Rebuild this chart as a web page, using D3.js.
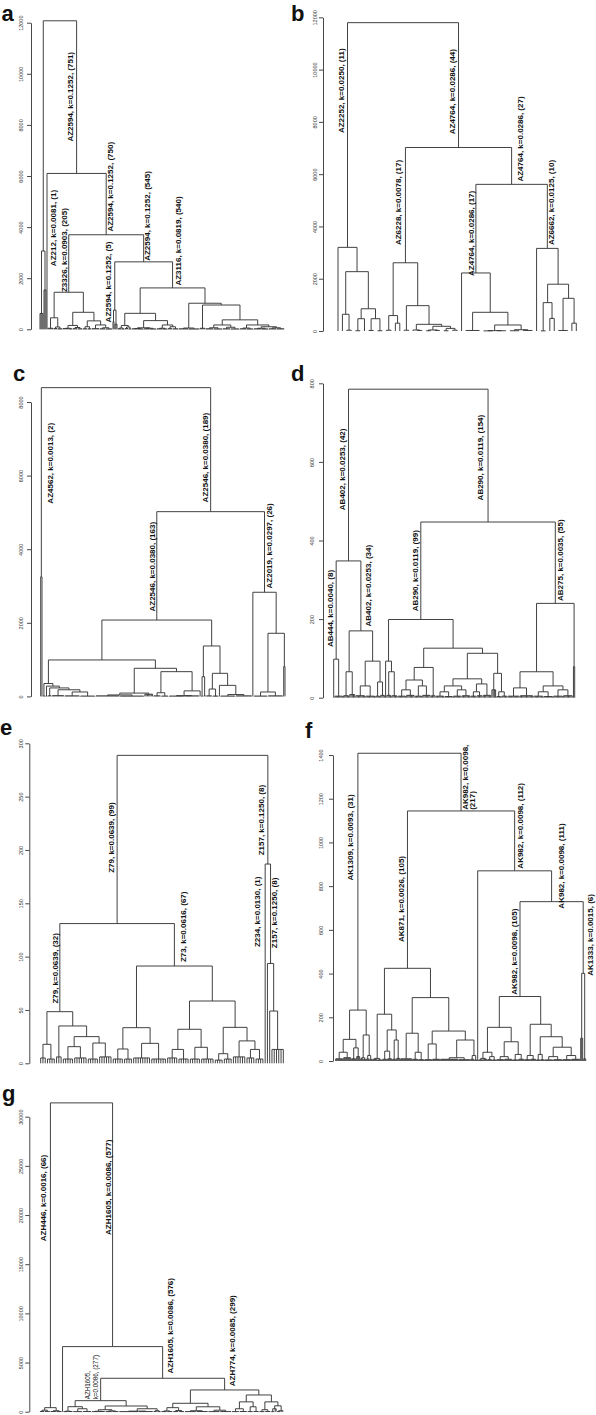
<!DOCTYPE html>
<html>
<head>
<meta charset="utf-8">
<script src="https://cdn.jsdelivr.net/npm/d3@7"></script>
<style>
  html,body{margin:0;padding:0;background:#fff;}
  svg{display:block;}
  .lbl{font-family:"Liberation Sans",Arial,sans-serif;font-weight:bold;font-size:8px;fill:#111;}
  .lbl-small{font-family:"Liberation Sans",Arial,sans-serif;font-weight:normal;font-size:6.3px;fill:#111;}
  .tick text{font-family:"Liberation Sans",Arial,sans-serif;font-size:5.5px;fill:#333;}
  .letter{font-family:"Liberation Sans",Arial,sans-serif;font-weight:bold;font-size:22px;fill:#111;}
</style>
</head>
<body>
<svg id="chart" width="596" height="1415" viewBox="0 0 596 1415"></svg>
<script>
// ---------------- DATA ----------------
const panelLetters = ["a","b","c","d","e","f","g"];

const ticksA = [0,2000,4000,6000,8000,10000,12000];
const ticksB = [0,2000,4000,6000,8000,10000,12000];
const ticksC = [0,2000,4000,6000,8000];
const ticksD = [0,200,400,600,800];
const ticksE = [0,50,100,150,200,250,300];
const ticksF = [0,200,400,600,800,1000,1200,1400];
const ticksG = [0,5000,10000,15000,20000,25000,30000];

// Dendrograms: "(height child child ...)", "." = leaf, "h*k" = k leaves merged at height h, "#id" names a branch
const treeA = `
(12075
  (3065 (620 . . . .) (1540 . . .))
  (6100#a1 .#a3
    (3700#a2
      (1450#a4
        (450 40*6 (90 30*4 20*5))
        (665 (150 (40 30*6 20*4) (70 25*5 20*5))
             (330 (100 20*5 20*4) (170 25*8 (60 20*6 15*7)))))
      (2640#a5
        (750#a6 (300 . .) (200 . . .))
        (1620#a7
          (625 (150 (50 20*4 15*3) (90 30*4 20*3))
               (340 (60 (30 20*6 15*6) (40 20*6 15*7))
                    (170 (40 20*6 15*5) (100 25*5 20*6))))
          (1020 (50 20*10 15*11)
                (950 40*6
                     (370 (170 (60 20*8 15*9) (80 20*8 15*9))
                          (170 (50 20*7 15*7) (100 (40 20*8 15*7) (60 20*8 20*8)
                          )
                          )
                     )
                )
          )
        )
      )
    )
  )
)`;

const treeB = `
(11795
  (3200#b1 . (2270 (640 . (30 . .)) (850 (470 (10 . .) .) (470 (20 . .) (10 . .)))))
  (7020#b2
    (2610#b3 (590 (30 . .) (300 . .))
             (970 (30 . .) (255 (40 . (20 . .)) (180 (40 (10 . .) (20 . .)) (100 (10 . .) (30 . .))))))
    (5610#b4
      (2220#b5 . (715 20*4 (230 (15 (5 . . .) (10 . . .)) (50 (10 . . .) (20 . . .)))))
      (3160#b6 . (1790 (1085 (5 . .) (480 . .)) (1250 (20 . . .) (300 . .))))
    )
  )
)`;

const treeC = `
(8390
  (3250#c1 . .)
  (5020#c2
    (2075#c3
      (990
        (350 (15 . .) (280 (15 . .) (230 (20 . . .) (180 20*10 (120 15*12 10*12)))))
        (764 (90 (40 15*19 10*19) 60*7)
             (672 (100 15*6 10*6) (150 (20 10*12 15*12) .))))
      (1370 (535 10*2 20*2)
            (627 (200 15*5 10*5) (300 . (50 10*12 15*13)))))
    (2830#c4 . (1715 (120 10*11 15*12) (810 . .)))
  )
)`;

const treeD = `
(785
  (348#d1
    (98#d2 . 4*7)
    (170#d3 (66 5*5 8*5) (93 (30 5*8 4*8) (40 4*4 6*4))))
  (447#d4
    (199#d5
      (93 . (66 6*4 5*5))
      (126 (77 (45 (20 4*7 6*7) (30 4*6 6*7)) 5*4)
           (113 (48 (30 (15 4*7 3*7) (20 4*7 5*7)) (35 (15 4*5 5*5) 6*7))
                (62 (20 . . . .) (15 3*4 4*5)))))
    (240#d6 (66 (25 4*10 5*11) (30 (15 4*8 3*8) (20 4*8 5*8))) (79 . .))
  )
)`;

const treeE = `
(288.7
  (131#e1
    (48.4#e2 (17.8 (5 . . .) (4 . . . .))
             (35 (6 . . .) (25 (15.6 (4 . . . . .) (5 . . . . . .)) (19 (4 . . . . .) (6 . . . . . .)))))
    (91.2#e3
      (33.4 (13.4 (4 . . . . .) (4 . . . .)) (18.7 (5 . . . . . . . .) (4 . . . . . . .)))
      (58.4 (31.9 (13 (5 . . . . .) (4 . . . . .)) (15 (4 . . . . .) (4 . . . . . .)))
            (33.7 (9 (3 . . . .) (4 . . . .)) (21 (6 . . . . . .) (13 (5 . . . .) (4 . . . .)))))
    )
  )
  (186.8#e4 .#e5 (93.6#e6 . (49 . (13 . . . . . .))))
)`;

const treeF = `
(1408
  (233#f1 (99 (40 10*8 15*8) (60 10*5 20*4)) (119 (15 10*3 8*3) (25 10*3 8*3)))
  (1144#f2
    (424#f3
      (214 (12 8*5 5*5) (142 (45 8*5 10*5) (96 8*4 12*4)))
      (290 (127 10*12 (40 8*6 6*6))
           (137 (78 6*8 8*8) (96 (15 8*18 6*12) (25 8*4 5*3)))))
    (870#f4 .
      (729#f5
        (295#f6
          (154 (40 (12 5*5 8*4) (20 6*5 5*4)) (88 (20 6*8 8*8) (30 5*6 8*6)))
          (168 (25 6*6 8*6) (111 (30 5*4 6*4) (63 (20 5*9 6*9) (25 6*9 8*9)))))
        (401#f7 (104 . . .) (10 . . .))
      )
    )
  )
)`;

const treeG = `
(31405
  (410#g1 (150 20*5 30*6) (100 20*6 15*6))
  (6620#g2 .
    (3400#g3
      (1120#g4 (510 (60 10*5 20*5) (300 10*10 20*9))
               (580 (200 (40 10*7 20*7) (80 10*7 15*7)) (300 (60 10*20 15*15) (100 20*4 10*4))))
      (2210#g5
        (855 (410 (80 10*6 15*6) (120 10*6 15*6)) (500 (100 10*12 20*12) (150 10*12 15*12)))
        (1700 (1000 (300 10*8 20*8) (500 10*6 20*6)) (1000 (200 10*6 20*6) (600 (300 10*4 . .) (100 10*4 . . .))))
      )
    )
  )
)`;

// branch labels: [branch id, text (array = stacked lines), height at label centre/start]
const labelsA = [
  ["a1","AZ2594, k=0.1252, (751)",9100],
  ["a2","AZ2594, k=0.1252, (750)",5580],
  ["a3","AZ212, k=0.0081, (1)",3965],
  ["a4","Z3326, k=0.0903, (205)",3100],
  ["a5","AZ2594, k=0.1252, (545)",4435],
  ["a6","AZ2594, k=0.1252, (5)",1850],
  ["a7","AZ3116, k=0.0819, (540)",3455]
];
const labelsB = [
  ["b1","AZ2252, k=0.0250, (11)",9190],
  ["b2","AZ4764, k=0.0286, (44)",9155],
  ["b3","AZ6228, k=0.0078, (17)",4915],
  ["b4","AZ4764, k=0.0286, (27)",7345],
  ["b5","AZ4764, k=0.0286, (17)",3735],
  ["b6","AZ6662, k=0.0125, (10)",4915]
];
const labelsC = [
  ["c1","AZ4562, k=0.0013, (2)",6335],
  ["c2","AZ2546, k=0.0380, (189)",6490],
  ["c3","AZ2546, k=0.0380, (163)",3525],
  ["c4","AZ2019, k=0.0297, (26)",4090]
];
const labelsD = [
  ["d1","AB402, k=0.0253, (42)",581],
  ["d4","AB290, k=0.0119, (154)",611],
  ["d2","AB444, k=0.0040, (8)",227],
  ["d3","AB402, k=0.0253, (34)",285],
  ["d5","AB290, k=0.0119, (99)",323],
  ["d6","AB275, k=0.0035, (55)",350]
];
const labelsE = [
  ["e1","Z79, k=0.0639, (99)",211.6],
  ["e4","Z157, k=0.1250, (8)",228],
  ["e3","Z73, k=0.0616, (67)",128],
  ["e2","Z79, k=0.0639, (32)",89],
  ["e5","Z234, k=0.0130, (1)",142],
  ["e6","Z157, k=0.1250, (8)",141]
];
const labelsF = [
  ["f1","AK1309, k=0.0093, (31)",1023],
  ["f2",["AK982, k=0.0098,","(217)"],1149],
  ["f3","AK871, k=0.0026, (105)",741],
  ["f4","AK982, k=0.0098, (112)",1076],
  ["f5","AK982, k=0.0098, (111)",892],
  ["f6","AK982, k=0.0098, (105)",500],
  ["f7","AK1333, k=0.0015, (6)",577]
];
const labelsG = [
  ["g1","AZH446, k=0.0016, (66)",21730],
  ["g2","AZH1605, k=0.0086, (577)",22830],
  ["g3","AZH1605, k=0.0086, (576)",8745],
  ["g5","AZH774, k=0.0085, (299)",7220],
  ["g4",["AZH1605,","k=0.0086, (277)"],1260]
];

// ---------------- LAYOUT (positions / styles) ----------------
const layout = [
  {tree:treeA, ticks:ticksA, labels:labelsA, dx:[-5.9,4,6.3,-4.5,4,-6.4,5.7],
   x0:40, x1:284, y0:329.3, yTop:22.7, axisX:31, tickGap:10.3, lx:1.5, ly:20.5},
  {tree:treeB, ticks:ticksB, labels:labelsB, dx:[-6.2,-6.5,-7.4,8.7,-4.6,4.5],
   x0:338, x1:576.3, y0:331, yTop:17.3, axisX:323, tickGap:7.7, lx:291, ly:20.5},
  {tree:treeC, ticks:ticksC, labels:labelsC, dx:[9,-5,-4.5,4.7],
   x0:40.7, x1:285, y0:696.4, yTop:402, axisX:31, tickGap:10.3, lx:13, ly:381},
  {tree:treeD, ticks:ticksD, labels:labelsD, dx:[-6.1,-7.6,-5.9,7.3,-5.5,5.3],
   x0:333.7, x1:574.7, y0:697.7, yTop:383.3, axisX:323, tickGap:11, lx:291, ly:381},
  {tree:treeE, ticks:ticksE, labels:labelsE, dx:[-5.3,-6.6,9,-4,-7.4,4.1],
   x0:40.7, x1:283.3, y0:1063.3, yTop:743.3, axisX:29.3, tickGap:8.6, lx:0, ly:735},
  {tree:treeF, ticks:ticksF, labels:labelsF, dx:[-7.2,4,-6.2,6,9.7,-5.3,7.5], lineGap:7,
   x0:335.7, x1:585.7, y0:1061, yTop:755, axisX:333, tickGap:11.7, lx:305, ly:738},
  {tree:treeG, ticks:ticksG, labels:labelsG, dx:[-7.1,-4.3,8,8,-13.5], lineGap:8.5, small:["g4"],
   x0:40, x1:283, y0:1411.7, yTop:1116.7, axisX:29.3, tickGap:8.6, lx:2, ly:1101}
];

// ---------------- PARSER ----------------
function parseTree(str){
  const tokens = str.match(/\(|\)|[^\s()]+/g);
  let pos = 0;
  function node(){
    const t = tokens[pos++];
    if (t === "(") {
      const [hs, id] = tokens[pos++].split("#");
      const n = {h:+hs, id:id, children:[]};
      while (tokens[pos] !== ")") n.children.push(node());
      pos++;
      return n;
    }
    const [body, id] = t.split("#");
    if (body === ".") return {h:0, id:id};
    const [h, k] = body.split("*").map(Number);
    return {h:h, id:id, children:d3.range(k).map(() => ({h:0}))};
  }
  return node();
}

// ---------------- DRAW ----------------
const svg = d3.select("#chart");
svg.append("rect").attr("width",596).attr("height",1415).attr("fill","#fff");

layout.forEach((p, pi) => {
  const g = svg.append("g");
  const root = d3.hierarchy(parseTree(p.tree), d => d.children);
  d3.cluster().nodeSize([1,1]).separation(() => 1)(root);
  const leaves = root.leaves();
  const x = d3.scaleLinear().domain(d3.extent(leaves, d => d.x)).range([p.x0, p.x1]);
  const y = d3.scaleLinear().domain([0, d3.max(p.ticks)]).range([p.y0, p.yTop]);

  const path = d3.path();
  const byId = {};
  root.each(n => {
    if (n.data.id) byId[n.data.id] = n;
    if (!n.children) return;
    const yn = y(n.data.h);
    const xs = n.children.map(c => x(c.x));
    path.moveTo(d3.min(xs), yn); path.lineTo(d3.max(xs), yn);
    n.children.forEach(c => { path.moveTo(x(c.x), yn); path.lineTo(x(c.x), y(c.data.h)); });
  });
  g.append("path").attr("d", path.toString()).attr("fill","none")
    .attr("stroke","#383838").attr("stroke-width",0.95);

  // y axis
  const ax = g.append("g").attr("transform", `translate(${p.axisX},0)`)
    .call(d3.axisLeft(y).tickValues(p.ticks).tickSize(4).tickSizeOuter(0).tickFormat(d3.format("d")))
    .attr("color","#333");
  ax.select(".domain").attr("stroke-width",0.9);
  ax.selectAll(".tick line").attr("stroke-width",0.9);
  ax.selectAll(".tick text")
    .attr("transform","rotate(-90)").attr("x",0).attr("y",-p.tickGap).attr("dy",null)
    .attr("text-anchor","middle").attr("dominant-baseline","central");

  // branch labels
  p.labels.forEach((lab, li) => {
    const [id, text, h] = lab;
    const n = byId[id];
    const bx = x(n.x) + p.dx[li];
    const by = y(h);
    const cls = (p.small && p.small.includes(id)) ? "lbl-small" : "lbl";
    if (Array.isArray(text)) {
      text.forEach((line, k) => {
        g.append("text").attr("class", cls)
          .attr("transform", `translate(${bx + k*p.lineGap},${by}) rotate(-90)`)
          .attr("text-anchor","start").attr("dominant-baseline","central")
          .text(line);
      });
    } else {
      g.append("text").attr("class", cls)
        .attr("transform", `translate(${bx},${by}) rotate(-90)`)
        .attr("text-anchor","middle").attr("dominant-baseline","central")
        .text(text);
    }
  });

  // panel letter
  g.append("text").attr("class","letter").attr("x",p.lx).attr("y",p.ly).text(panelLetters[pi]);
});
</script>
</body>
</html>
